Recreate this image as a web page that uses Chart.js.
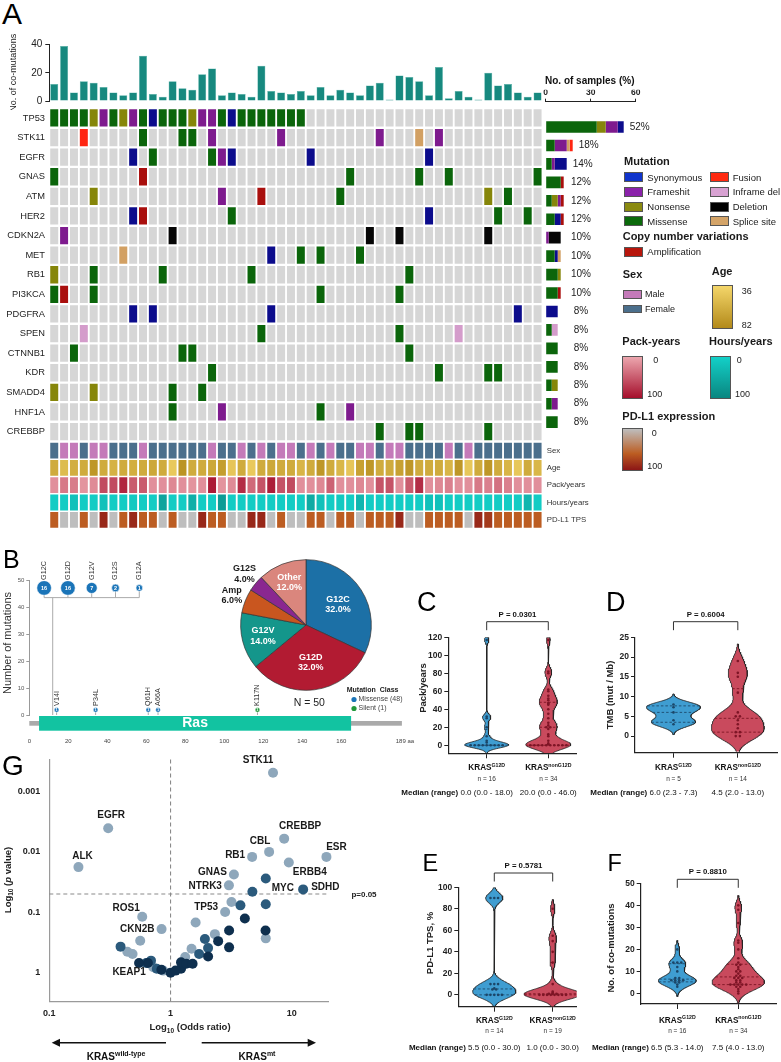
<!DOCTYPE html>
<html>
<head>
<meta charset="utf-8">
<title>KRAS co-mutation figure</title>
<script src="https://cdn.jsdelivr.net/npm/chart.js@4.4.1/dist/chart.umd.min.js"></script>
<style>
  html, body { margin: 0; padding: 0; background: #fff; }
  #page { position: relative; width: 781px; height: 1062px; overflow: hidden; background: #fff;
          font-family: "Liberation Sans", Arial, Helvetica, sans-serif; color: #1a1a1a; }
  #page canvas { position: absolute; }
  .txt { position: absolute; white-space: nowrap; line-height: 1; }
  .box { position: absolute; box-sizing: border-box; border: 1px solid #555; }
</style>
</head>
<body>
<div id="page"></div>
<script>
// ===== Panel A: co-mutation landscape =====
const sampleIds = Array.from({ length: 50 }, (_, i) => 'P' + (i + 1));
const coMutations = [12, 39, 6, 14, 13, 10, 6, 4, 6, 32, 5, 3, 14, 9, 8, 19, 23, 4, 6, 5,
                     3, 25, 7, 6, 5, 7, 4, 10, 4, 8, 6, 4, 11, 13, 1, 18, 17, 14, 4, 24,
                     2, 7, 3, 1, 20, 11, 12, 6, 3, 6];
const geneNames = ['TP53', 'STK11', 'EGFR', 'GNAS', 'ATM', 'HER2', 'CDKN2A', 'MET', 'RB1',
                   'PI3KCA', 'PDGFRA', 'SPEN', 'CTNNB1', 'KDR', 'SMADD4', 'HNF1A', 'CREBBP'];
// sample number + code: M missense, N nonsense, F frameshift, S synonymous,
// U fusion, I inframe del, D deletion, P splice site, A amplification
const geneHits = [
  '1M 2M 3M 4M 5N 6F 7M 8N 9F 10M 11S 12M 13M 14M 15N 16F 17F 18M 19S 20M 21M 22M 23M 24M 25M 26M',
  '4U 10M 14M 15M 17F 24F 34F 38P 40F',
  '9S 11M 17M 18F 19S 27S 39S',
  '1M 10A 31M 38M 41M 50M',
  '5N 18F 22A 30M 45N 47M',
  '9S 10A 19M 39S 46M 49M',
  '2F 13D 33D 36D 45D',
  '8P 23S 26M 28M 32M',
  '1N 5M 12M 21M 37M',
  '1M 2A 5M 28M 36M',
  '9S 11S 23S 48S',
  '4I 22M 36M 42I',
  '3M 14M 15M 37M',
  '17M 40M 45M 46M',
  '1N 5N 13M 16M',
  '13M 18F 28M 31F',
  '34M 37M 38M 45M'
];
const annotationNames = ['Sex', 'Age', 'Pack/years', 'Hours/years', 'PD-L1 TPS'];
const sex = 'FMMFMMFFFMFFFFFFMFFMFMFMMFMFMFFMMFMMFFFFMFMFFFFFFF'.split('');
const ages = [62, 52, 60, 62, 74, 62, 58, 62, 60, 62, 64, 62, 44, 76, 62, 62, 64, 70, 46, 62,
              44, 62, 64, 62, 62, 56, 62, 74, 62, 55, 46, 68, 74, 62, 62, 68, 74, 62, 62, 62,
              56, 74, 45, 62, 74, 62, 56, 45, 62, 55];
const packYears = [15, 30, 28, 12, 18, 60, 60, 85, 50, 50, 15, 15, 20, 15, 12, 15, 92, 12, 18, 80,
                   40, 55, 90, 55, 60, 15, 15, 20, 45, 15, 15, 20, 15, 55, 55, 15, 50, 80, 15, 20,
                   25, 15, 15, 30, 25, 35, 25, 15, 15, 15];
const hoursYears = [5, 5, 20, 5, 5, 20, 5, 5, 10, 5, 5, 60, 5, 5, 45, 5, 5, 70, 5, 5,
                    5, 5, 5, 5, 5, 5, 50, 20, 5, 10, 5, 35, 5, 5, 5, 5, 5, 5, 20, 20,
                    5, 5, 5, 5, 5, 5, 5, 5, 35, 5];
const pdl1 = [40, 0, 0, 40, 0, 85, 0, 40, 85, 40, 40, 0, 40, 0, 0, 85, 40, 40, 0, 0,
              85, 85, 0, 40, 0, 0, 40, 40, 0, 40, 40, 0, 40, 40, 40, 85, 0, 0, 40, 40,
              40, 40, 0, 85, 70, 40, 40, 40, 40, 40];
const stackCodes = ['M', 'N', 'F', 'S', 'I', 'D', 'P', 'U', 'A'];

// ===== Panel B: KRAS lollipop + pie =====
const g12Variants = ['G12C', 'G12D', 'G12V', 'G12S', 'G12A'];
const g12Counts = [16, 16, 7, 2, 1];
const otherVariants = ['V14I', 'P34L', 'Q61H', 'A66A', 'K117N'];
const otherPositions = [14, 34, 61, 66, 117];
const otherCounts = [1, 1, 1, 1, 1];
const otherClass = ['Missense', 'Missense', 'Missense', 'Missense', 'Silent'];
const classTotals = [['Missense', 48], ['Silent', 1]];
const rasDomain = [5, 165];
const proteinLength = 189;
const pieLabels = ['G12C', 'G12D', 'G12V', 'Amp', 'G12S', 'Other'];
const pieCounts = [16, 16, 7, 3, 2, 6];

// ===== Panels C-F: violins (values per patient) =====
const packG12D = [0, 0, 0, 0, 0, 0, 0, 0, 0, 3, 5, 10, 20, 30, 32, 117];
const packNonG12D = [0, 0, 0, 0, 0, 0, 0, 0, 0, 0, 1, 2, 5, 10, 12, 18, 20, 20, 22, 25, 30, 35,
                     40, 45, 46, 47, 50, 52, 55, 60, 62, 80, 82, 117];
const tmbG12D = [3, 4, 6, 7.3, 8];
const tmbNonG12D = [0, 0, 1, 1, 2, 3, 4, 5, 5, 6, 11, 15, 16, 19];
const tpsG12D = [0, 0, 0, 0, 0, 5, 5, 6, 10, 10, 10, 90, 90, 90];
const tpsNonG12D = [0, 0, 0, 0, 0, 0, 0, 0, 1, 1, 1, 2, 3, 10, 30, 40, 50, 55, 80];
const comutG12D = [3, 4, 5, 5, 6, 6, 6, 6, 7, 7, 10, 12, 14, 14, 14, 20];
const comutNonG12D = [0, 1, 2, 3, 3, 4, 4, 4, 4, 4, 5, 5, 6, 6, 7, 7, 7, 8, 8, 9, 10, 10, 11, 12,
                      13, 13, 14, 16, 20, 23, 24, 32, 38, 40];

// ===== Panel G: odds ratio vs p value =====
const gGenes = ['STK11', 'EGFR', 'ALK', 'CREBBP', 'CBL', 'RB1', 'ESR', 'ERBB4', 'GNAS', 'NTRK3', 'TP53',
                'ROS1', 'CKN2B', '', '', '', '', '', '', '', '', '', '', '',
                'MYC', '', 'SDHD', '', '', '', '', '', '', '', '',
                '', '', '', '', '', '', '', 'KEAP1', '', '', '', '', '', '', '', ''];
const oddsRatios = [7.0, 0.306, 0.174, 8.65, 6.5, 4.71, 19.3, 9.45, 3.33, 3.03, 2.82,
                    0.584, 0.843, 3.18, 1.61, 2.32, 0.562, 1.49, 1.32, 6.1, 0.44, 0.486, 0.72, 0.87,
                    6.1, 4.73, 12.4, 3.77, 6.1, 0.387, 1.92, 2.04, 1.72, 0.69, 0.63,
                    4.1, 3.04, 6.07, 2.47, 3.04, 2.04, 0.65, 0.55, 0.84, 1.0, 1.22, 1.22, 1.35, 1.52, 1.1, 0.77];
const pValues = [0.0005, 0.0041, 0.018, 0.0061, 0.0101, 0.0122, 0.0122, 0.0151, 0.0238, 0.036, 0.099,
                 0.119, 0.19, 0.068, 0.148, 0.23, 0.295, 0.40, 0.55, 0.27, 0.45, 0.49, 0.81, 0.92,
                 0.0277, 0.046, 0.042, 0.077, 0.074, 0.37, 0.277, 0.39, 0.49, 0.63, 0.69,
                 0.127, 0.2, 0.2, 0.30, 0.38, 0.54, 0.69, 0.69, 0.89, 1.0, 0.86, 0.67, 0.71, 0.71, 0.92, 0.86];
const gShade = [0, 0, 0, 0, 0, 0, 0, 0, 0, 0, 0, 0, 0, 0, 0, 0, 0, 0, 0, 0, 0, 0, 0, 0,
                1, 1, 1, 1, 1, 1, 1, 1, 1, 1, 1,
                2, 2, 2, 2, 2, 2, 2, 2, 2, 2, 2, 2, 2, 2, 2, 1];

// ===== Styles =====
const FONT = '"Liberation Sans", Arial, Helvetica, sans-serif';
Chart.defaults.font.family = FONT;
Chart.defaults.color = '#222';
const codeColor = { M: '#0b650b', N: '#86860a', F: '#7e1b8e', S: '#0c0c8c', U: '#ff2612',
                    I: '#d49ccb', D: '#060606', P: '#d2a063', A: '#a90f0d' };
const classColor = { Missense: '#1a74b8', Silent: '#22983a' };
const pieColors = ['#1c70a6', '#b21b32', '#14968b', '#c9561f', '#8a2790', '#da867d'];
const gShadeColors = ['#8ea7bb', '#2b5a7c', '#0e2f4e'];
const BLUE = { fill: '#3f9dd1', line: '#1d4a6c', dot: '#1b4668' };
const RED = { fill: '#c94a5d', line: '#7d1524', dot: '#7e1526' };

const f = (size, bold) => (bold ? 'bold ' : '') + size + 'px ' + FONT;
const base = () => ({ responsive: false, animation: false, devicePixelRatio: 1, events: [],
  plugins: { legend: { display: false }, tooltip: { enabled: false } } });
const page = document.getElementById('page');

function makeCanvas(left, top, w, h) {
  const c = document.createElement('canvas');
  c.width = w; c.height = h;
  c.style.left = left + 'px'; c.style.top = top + 'px';
  c.style.width = w + 'px'; c.style.height = h + 'px';
  page.appendChild(c);
  return c;
}
function hexToRgb(h) { const n = parseInt(h.slice(1), 16); return [n >> 16, (n >> 8) & 255, n & 255]; }
function ramp(stops, v) {
  let i = 0;
  while (i < stops.length - 2 && v > stops[i + 1][0]) i++;
  const [v0, c0] = stops[i], [v1, c1] = stops[i + 1];
  const t = Math.max(0, Math.min(1, (v - v0) / (v1 - v0)));
  const a = hexToRgb(c0), b = hexToRgb(c1);
  return 'rgb(' + a.map((x, k) => Math.round(x + (b[k] - x) * t)).join(',') + ')';
}
function drawText(ctx, s, x, y, font, color, align, baseline) {
  ctx.font = font; ctx.fillStyle = color || '#222';
  ctx.textAlign = align || 'left'; ctx.textBaseline = baseline || 'middle';
  ctx.fillText(s, x, y);
}
function richFont(p) { return (p.italic ? 'italic ' : '') + (p.bold ? 'bold ' : '') + p.size + 'px ' + FONT; }
function drawRich(ctx, parts, x, baseY, align, color) {
  ctx.save();
  ctx.fillStyle = color || '#111'; ctx.textAlign = 'left'; ctx.textBaseline = 'alphabetic';
  const widths = parts.map(p => { ctx.font = richFont(p); return ctx.measureText(p.t).width; });
  const total = widths.reduce((a, b) => a + b, 0);
  let cx = align === 'center' ? x - total / 2 : align === 'right' ? x - total : x;
  parts.forEach((p, i) => { ctx.font = richFont(p); ctx.fillText(p.t, cx, baseY + (p.dy || 0)); cx += widths[i]; });
  ctx.restore();
  return total;
}
function htmlText(str, x, cy, size, bold, align, color) {
  const d = document.createElement('div');
  d.className = 'txt';
  d.innerHTML = str;
  d.style.fontSize = size + 'px';
  d.style.fontWeight = bold ? 'bold' : 'normal';
  d.style.left = x + 'px';
  d.style.top = (cy - 0.49 * size) + 'px';
  if (align === 'center') d.style.transform = 'translateX(-50%)';
  if (align === 'right') d.style.transform = 'translateX(-100%)';
  if (color) d.style.color = color;
  page.appendChild(d);
}
function htmlBox(x, y, w, h, bg) {
  const d = document.createElement('div');
  d.className = 'box';
  Object.assign(d.style, { left: x + 'px', top: y + 'px', width: w + 'px', height: h + 'px', background: bg });
  page.appendChild(d);
}

// ---------- A: top bar chart of co-mutations ----------
new Chart(makeCanvas(0, 30, 548, 80), {
  type: 'bar',
  data: { labels: sampleIds, datasets: [{ data: coMutations, backgroundColor: '#17897f',
    borderColor: '#4fb0a6', borderWidth: 0.5, categoryPercentage: 1, barPercentage: 0.81 }] },
  options: { ...base(),
    layout: { padding: { left: 0, right: 5.5, top: 14.5, bottom: 5 } },
    scales: {
      x: { display: false },
      y: { min: 0, max: 40,
        afterFit: s => { s.width = 49.3; },
        afterBuildTicks: s => { s.ticks = [0, 20, 40].map(v => ({ value: v })); },
        ticks: { font: { size: 10 }, color: '#222', padding: 3 },
        grid: { drawOnChartArea: false, drawTicks: true, tickLength: 4, color: '#222' },
        border: { color: '#222', width: 1 },
        title: { display: true, text: 'No. of co-mutations', font: { size: 9 }, color: '#222', padding: { top: 8, bottom: 0 } } }
    } }
});

// ---------- A: oncoprint grid ----------
const GENE_ROW0 = 1.3, GENE_PITCH = 19.6, GENE_H = 17.3;
const ANN_ROW0 = 334.7, ANN_PITCH = 17.3, ANN_H = 15.8;
const hitMaps = geneHits.map(s => {
  const m = {};
  s.split(' ').forEach(t => { m[parseInt(t, 10)] = t.replace(/\d+/, ''); });
  return m;
});
const annColors = [
  sex.map(s => (s === 'M' ? '#c47ab9' : '#4b6f8c')),
  ages.map(v => ramp([[36, '#f4d66a'], [82, '#b38a1a']], v)),
  packYears.map(v => ramp([[0, '#eca6ae'], [100, '#a50f2c']], v)),
  hoursYears.map(v => ramp([[0, '#13d0c8'], [100, '#0a8680']], v)),
  pdl1.map(v => ramp([[0, '#bebebe'], [40, '#bc5d22'], [100, '#8c1616']], v))
];
const oncoDatasets = [];
geneNames.forEach((g, i) => {
  const top = GENE_ROW0 + GENE_PITCH * i;
  oncoDatasets.push({ data: sampleIds.map(() => [top, top + GENE_H]),
    backgroundColor: sampleIds.map((_, k) => (hitMaps[i][k + 1] ? codeColor[hitMaps[i][k + 1]] : '#d6d6d6')) });
});
annColors.forEach((cols, j) => {
  const top = ANN_ROW0 + ANN_PITCH * j;
  oncoDatasets.push({ data: sampleIds.map(() => [top, top + ANN_H]), backgroundColor: cols });
});
new Chart(makeCanvas(0, 105, 620, 430), {
  type: 'bar',
  data: { labels: sampleIds, datasets: oncoDatasets },
  options: { ...base(),
    datasets: { bar: { grouped: false, barPercentage: 0.81, categoryPercentage: 1, borderWidth: 0 } },
    layout: { padding: { left: 49.3, right: 77.5, top: 3, bottom: 5 } },
    scales: { x: { display: false }, y: { display: false, min: 0, max: 422, reverse: true } } },
  plugins: [{ id: 'rowLabels', afterDraw(chart) {
    const ctx = chart.ctx, y = chart.scales.y;
    geneNames.forEach((g, i) => drawText(ctx, g, 45, y.getPixelForValue(GENE_ROW0 + GENE_PITCH * i + GENE_H / 2),
      f(9.3), '#222', 'right'));
    annotationNames.forEach((a, j) => drawText(ctx, a, 546.7, y.getPixelForValue(ANN_ROW0 + ANN_PITCH * j + ANN_H / 2),
      f(7.8), '#333', 'left'));
  } }]
});

// ---------- A: alteration frequency bars ----------
const rowCenter = i => 108 + GENE_ROW0 + GENE_H / 2 + GENE_PITCH * i;
const sideDatasets = stackCodes.map(code => ({
  data: geneNames.map((g, i) => ({ x: Object.values(hitMaps[i]).filter(c => c === code).length * 100 / sampleIds.length,
                                    y: rowCenter(i) })),
  backgroundColor: codeColor[code], borderWidth: 0
}));
new Chart(makeCanvas(540, 70, 120, 380), {
  type: 'bar',
  data: { datasets: sideDatasets },
  options: { ...base(), indexAxis: 'y',
    datasets: { bar: { grouped: false, barPercentage: 0.63, categoryPercentage: 1 } },
    layout: { padding: { left: 5.7, right: 24.3, top: 19.7, bottom: 8 } },
    scales: {
      x: { type: 'linear', position: 'top', min: 0, max: 60, stacked: true,
        afterFit: s => { s.height = 12; },
        afterBuildTicks: s => { s.ticks = [0, 30, 60].map(v => ({ value: v })); },
        ticks: { font: { size: 8.5, weight: 'bold' }, color: '#222', padding: 1 },
        grid: { drawOnChartArea: false, drawTicks: true, tickLength: 3, color: '#222' },
        border: { color: '#222', width: 1 } },
      y: { type: 'linear', display: false, min: 101.7, max: 442, reverse: true, stacked: true,
        afterBuildTicks: s => { s.ticks = geneNames.map((g, i) => ({ value: rowCenter(i) })); } }
    } },
  plugins: [{ id: 'pctLabels', afterDraw(chart) {
    const ctx = chart.ctx, x = chart.scales.x, y = chart.scales.y;
    drawText(ctx, 'No. of samples (%)', 5, 11, f(10, true), '#111', 'left');
    geneNames.forEach((g, i) => {
      const pct = Object.keys(hitMaps[i]).length * 100 / sampleIds.length;
      const cx = Math.max(x.getPixelForValue(pct) + 16, 41);
      drawText(ctx, pct + '%', cx, y.getPixelForValue(rowCenter(i)), f(10), '#222', 'center');
    });
  } }]
});

// ---------- A: legend ----------
htmlText('Mutation', 624, 161, 11, true);
[['Synonymous', '#1034cc'], ['Frameshit', '#8a22aa'], ['Nonsense', '#8a8a10'], ['Missense', '#0b6a0b']]
  .forEach(([t, c], i) => { htmlBox(624, 172.3 + 14.7 * i, 18.7, 10, c); htmlText(t, 647.3, 177.3 + 14.7 * i, 9.5); });
[['Fusion', '#ff2a10'], ['Inframe del', '#d8a2d2'], ['Deletion', '#000'], ['Splice site', '#d4a468']]
  .forEach(([t, c], i) => { htmlBox(710, 172.3 + 14.7 * i, 18.7, 10, c); htmlText(t, 732.7, 177.3 + 14.7 * i, 9.5); });
htmlText('Copy number variations', 622.7, 236.7, 11, true);
htmlBox(624, 246.7, 18.7, 10, '#b8160c'); htmlText('Amplification', 647.3, 251.7, 9.5);
htmlText('Sex', 622.7, 274, 11, true);
htmlText('Age', 711.7, 271.7, 11, true);
htmlBox(622.7, 290, 19, 8.5, '#c47ab9'); htmlText('Male', 645, 294.3, 9);
htmlBox(622.7, 304.5, 19, 8.5, '#4b6f8c'); htmlText('Female', 645, 309, 9);
htmlBox(711.7, 285, 21, 44.3, 'linear-gradient(#f4d66a, #b38a1a)');
htmlText('36', 741.7, 291.7, 9); htmlText('82', 741.7, 325, 9);
htmlText('Pack-years', 622.3, 341.7, 11, true);
htmlText('Hours/years', 709, 341.7, 11, true);
htmlBox(622.3, 356, 21, 43, 'linear-gradient(#eca6ae, #a50f2c)');
htmlText('0', 653.3, 360, 9); htmlText('100', 647.3, 394, 9);
htmlBox(710, 356, 21, 43, 'linear-gradient(#13d0c8, #0a8680)');
htmlText('0', 736.7, 360, 9); htmlText('100', 735, 394, 9);
htmlText('PD-L1 expression', 622.3, 416, 11, true);
htmlBox(622.3, 428.3, 21, 42.7, 'linear-gradient(#bebebe, #bc5d22 60%, #8c1616)');
htmlText('0', 651.7, 433.3, 9); htmlText('100', 647.3, 466, 9);

// ---------- B: lollipop plot ----------
const g12Total = g12Counts.reduce((a, b) => a + b, 0);
const G12_START = 7.6, G12_STEP = 12.2;
const g12Head = g12Total + 5.3, g12Bar = g12Total + 1.7;
new Chart(makeCanvas(0, 545, 420, 210), {
  type: 'scatter',
  data: { datasets: [
    { data: g12Variants.map((v, i) => ({ x: G12_START + G12_STEP * i, y: g12Head })),
      pointRadius: c => 2 + 1.33 * Math.sqrt(g12Counts[c.dataIndex]),
      backgroundColor: classColor.Missense, borderColor: '#fff', borderWidth: 0.6 },
    { data: otherPositions.map((p, i) => ({ x: p, y: otherCounts[i] + 0.9 })),
      pointRadius: 2.4, backgroundColor: c => classColor[otherClass[c.dataIndex]], borderColor: '#fff', borderWidth: 0.5 }
  ] },
  options: { ...base(),
    layout: { padding: { left: 9.3, right: 22.1, top: 35.7, bottom: 5 } },
    scales: {
      x: { type: 'linear', min: 0, max: proteinLength,
        afterFit: s => { s.height = 35; },
        afterBuildTicks: s => { s.ticks = [0, 20, 40, 60, 80, 100, 120, 140, 160].map(v => ({ value: v })); },
        ticks: { font: { size: 6 }, color: '#444', padding: 23 },
        grid: { display: false, drawTicks: false }, border: { display: false } },
      y: { min: 0, max: 50,
        afterFit: s => { s.width = 20; },
        afterBuildTicks: s => { s.ticks = [0, 10, 20, 30, 40, 50].map(v => ({ value: v })); },
        ticks: { font: { size: 6 }, color: '#555', padding: 2 },
        grid: { drawOnChartArea: false, drawTicks: true, tickLength: 3, color: '#999' },
        border: { color: '#999', width: 1 } }
    } },
  plugins: [{ id: 'lollipop',
    beforeDatasetsDraw(chart) {
      const ctx = chart.ctx, x = chart.scales.x, y = chart.scales.y, y0 = y.getPixelForValue(0);
      ctx.save();
      ctx.fillStyle = '#aaaaaa';
      ctx.fillRect(x.getPixelForValue(0), y0 + 6, x.getPixelForValue(proteinLength) + 4 - x.getPixelForValue(0), 4.7);
      ctx.fillStyle = '#12c3a1';
      ctx.fillRect(x.getPixelForValue(rasDomain[0]), y0 + 1, x.getPixelForValue(rasDomain[1]) - x.getPixelForValue(rasDomain[0]), 14.7);
      drawText(ctx, 'Ras', (x.getPixelForValue(rasDomain[0]) + x.getPixelForValue(rasDomain[1])) / 2, y0 + 8.6, f(14, true), '#fff', 'center');
      ctx.strokeStyle = '#aaaaaa'; ctx.lineWidth = 1;
      ctx.beginPath();
      ctx.moveTo(x.getPixelForValue(12), y0); ctx.lineTo(x.getPixelForValue(12), y.getPixelForValue(g12Bar));
      ctx.moveTo(x.getPixelForValue(G12_START), y.getPixelForValue(g12Bar));
      ctx.lineTo(x.getPixelForValue(G12_START + G12_STEP * (g12Variants.length - 1)), y.getPixelForValue(g12Bar));
      g12Variants.forEach((v, i) => {
        const px = x.getPixelForValue(G12_START + G12_STEP * i);
        ctx.moveTo(px, y.getPixelForValue(g12Bar)); ctx.lineTo(px, y.getPixelForValue(g12Head));
      });
      otherPositions.forEach((p, i) => {
        ctx.moveTo(x.getPixelForValue(p), y0); ctx.lineTo(x.getPixelForValue(p), y.getPixelForValue(otherCounts[i] + 0.9));
      });
      ctx.stroke();
      ctx.restore();
    },
    afterDatasetsDraw(chart) {
      const ctx = chart.ctx, x = chart.scales.x, y = chart.scales.y;
      const rot = (s, px, py) => { ctx.save(); ctx.translate(px, py); ctx.rotate(-Math.PI / 2);
        drawText(ctx, s, 0, 0, f(7.2), '#333', 'left'); ctx.restore(); };
      g12Variants.forEach((v, i) => {
        const px = x.getPixelForValue(G12_START + G12_STEP * i), py = y.getPixelForValue(g12Head);
        rot(v, px, py - 8);
        drawText(ctx, String(g12Counts[i]), px, py + 0.3, f(5.5, true), '#fff', 'center');
      });
      otherVariants.forEach((v, i) => {
        const px = x.getPixelForValue(otherPositions[i]), py = y.getPixelForValue(otherCounts[i] + 0.9);
        rot(v, px, py - 4);
        drawText(ctx, String(otherCounts[i]), px, py + 0.2, f(4, true), '#fff', 'center');
      });
      drawText(ctx, proteinLength + ' aa', x.getPixelForValue(proteinLength) + 7, y.getPixelForValue(0) + 26, f(6), '#444', 'center');
      ctx.save(); ctx.translate(8.3, 98); ctx.rotate(-Math.PI / 2);
      drawText(ctx, 'Number of mutations', 0, 0, f(11), '#333', 'center'); ctx.restore();
      drawText(ctx, 'N = ' + pieCounts.reduce((a, b) => a + b, 0), 309.3, 157.7, f(10.5), '#222', 'center');
      drawText(ctx, 'Mutation  Class', 346.7, 145.5, f(7, true), '#222', 'left');
      classTotals.forEach(([t, n], k) => {
        ctx.fillStyle = classColor[t]; ctx.beginPath(); ctx.arc(354, 154.5 + 9 * k, 2.6, 0, Math.PI * 2); ctx.fill();
        drawText(ctx, t + ' (' + n + ')', 358.5, 154.5 + 9 * k, f(7), '#444', 'left');
      });
    } }]
});

// ---------- B: pie chart ----------
const pieLabelR = [0.58, 0.58, 0.68, 1.22, 1.22, 0.7];
new Chart(makeCanvas(196, 545, 220, 160), {
  type: 'pie',
  data: { labels: pieLabels, datasets: [{ data: pieCounts, backgroundColor: pieColors, borderColor: '#333', borderWidth: 0.7 }] },
  options: { ...base(), layout: { padding: { left: 44.3, right: 44.3, top: 14.3, bottom: 14.3 } } },
  plugins: [{ id: 'pieText', afterDatasetsDraw(chart) {
    const ctx = chart.ctx, arcs = chart.getDatasetMeta(0).data;
    const total = pieCounts.reduce((a, b) => a + b, 0);
    arcs.forEach((a, i) => {
      const mid = (a.startAngle + a.endAngle) / 2, r = a.outerRadius * pieLabelR[i];
      const px = a.x + Math.cos(mid) * r, py = a.y + Math.sin(mid) * r;
      const col = pieLabelR[i] > 1 ? '#1a1a1a' : '#fff';
      drawText(ctx, pieLabels[i], px, py - 5.3, f(9, true), col, 'center');
      drawText(ctx, (pieCounts[i] * 100 / total).toFixed(1) + '%', px, py + 5.3, f(9, true), col, 'center');
    });
  } }]
});

// ---------- C-F: violin panels ----------
function quantile(sorted, p) {
  const n = sorted.length, pos = (n + 1) * p - 1;
  if (pos <= 0) return sorted[0];
  if (pos >= n - 1) return sorted[n - 1];
  const lo = Math.floor(pos);
  return sorted[lo] + (pos - lo) * (sorted[lo + 1] - sorted[lo]);
}
function violinPanel(spec) {
  const [cl, ct, cw, ch] = spec.canvas;
  const [L, R, T, B] = spec.area;
  const YW = 30, XH = 6;
  const datasets = [];
  spec.groups.forEach((g, gi) => {
    const cx = gi + 1;
    const dens = y => g.values.reduce((s, v) => s + Math.exp(-0.5 * ((y - v) / g.bw) ** 2), 0);
    const lo = Math.min(...g.values) - 3.2 * g.bw, hi = Math.max(...g.values) + 3.2 * g.bw;
    const grid = [];
    for (let i = 0; i <= 300; i++) { const y = lo + (hi - lo) * i / 300; grid.push({ y, d: dens(y) }); }
    const dMax = Math.max(...grid.map(p => p.d));
    const inside = grid.map(p => p.d >= 0.012 * dMax);
    const first = inside.indexOf(true), last = inside.lastIndexOf(true);
    const pts = grid.slice(first, last + 1).filter(p => p.y >= spec.yMin + 0.2 && p.y <= spec.yMax);
    const k = g.half / dMax;
    const outline = pts.map(p => ({ x: cx - p.d * k, y: p.y }))
      .concat(pts.slice().reverse().map(p => ({ x: cx + p.d * k, y: p.y })));
    datasets.push({ data: outline, showLine: true, fill: 'shape', backgroundColor: g.color.fill,
      borderColor: '#222', borderWidth: 0.8, pointRadius: 0, tension: 0, order: 3 });
    const sorted = g.values.slice().sort((a, b) => a - b);
    [...new Set([0.25, 0.5, 0.75].map(p => quantile(sorted, p)))].forEach(q => {
      const w = dens(q) * k;
      datasets.push({ data: [{ x: cx - w, y: q }, { x: cx + w, y: q }], showLine: true, fill: false,
        borderColor: g.color.line, borderWidth: 0.9, borderDash: [2.5, 2], pointRadius: 0, order: 2 });
    });
    const seen = {};
    const counts = {};
    sorted.forEach(v => { counts[v] = (counts[v] || 0) + 1; });
    datasets.push({ data: sorted.map(v => { seen[v] = (seen[v] || 0) + 1;
        return { x: cx + (seen[v] - 1 - (counts[v] - 1) / 2) * 0.065, y: v }; }),
      pointRadius: 1.3, backgroundColor: g.color.dot, borderWidth: 0, order: 1 });
  });
  new Chart(makeCanvas(cl, ct, cw, ch), {
    type: 'scatter',
    data: { datasets },
    options: { ...base(),
      layout: { padding: { left: L - cl - YW, right: cl + cw - R, top: T - ct, bottom: ct + ch - B - XH } },
      scales: {
        x: { type: 'linear', min: spec.xMin, max: spec.xMax,
          afterFit: s => { s.height = XH; },
          afterBuildTicks: s => { s.ticks = [1, 2].map(v => ({ value: v })); },
          ticks: { display: false },
          grid: { drawOnChartArea: false, drawTicks: true, tickLength: 5, color: '#222' },
          border: { color: '#222', width: 1.2 } },
        y: { min: spec.yMin, max: spec.yMax,
          afterFit: s => { s.width = YW; },
          afterBuildTicks: s => { s.ticks = spec.yTicks.map(v => ({ value: v })); },
          ticks: { font: { size: 8.5, weight: 'bold' }, color: '#222', padding: 2 },
          grid: { drawOnChartArea: false, drawTicks: true, tickLength: 4, color: '#222' },
          border: { color: '#222', width: 1.2 } }
      } },
    plugins: [{ id: 'violinText', afterDraw(chart) {
      const ctx = chart.ctx, x = chart.scales.x;
      const px = [x.getPixelForValue(1), x.getPixelForValue(2)];
      ctx.save(); ctx.translate(spec.title[1] - cl, spec.title[2] - ct); ctx.rotate(-Math.PI / 2);
      drawText(ctx, spec.title[0], 0, 0, f(9.5, true), '#222', 'center'); ctx.restore();
      const by = spec.bracket - ct;
      ctx.save(); ctx.strokeStyle = '#333'; ctx.lineWidth = 1; ctx.beginPath();
      ctx.moveTo(px[0], by + 8.5); ctx.lineTo(px[0], by); ctx.lineTo(px[1], by); ctx.lineTo(px[1], by + 8.5);
      ctx.stroke(); ctx.restore();
      drawText(ctx, spec.p, (px[0] + px[1]) / 2, by - 7, f(7.8, true), '#111', 'center');
      const sups = ['G12D', 'nonG12D'];
      px.forEach((p, i) => {
        drawRich(ctx, [{ t: 'KRAS', size: 8.2, bold: true }, { t: sups[i], size: 5.2, bold: true, dy: -3.2 }],
          p, spec.rows[0] - ct + 3, 'center', '#111');
        drawText(ctx, spec.ns[i], p, spec.rows[1] - ct, f(6.5), '#333', 'center');
      });
      ctx.font = f(8);
      const w0 = ctx.measureText(spec.medians[0]).width;
      drawText(ctx, spec.medians[0], px[0], spec.rows[2] - ct, f(8), '#111', 'center');
      drawText(ctx, spec.medians[1], px[1], spec.rows[2] - ct, f(8), '#111', 'center');
      drawText(ctx, 'Median (range) ', px[0] - w0 / 2, spec.rows[2] - ct, f(8, true), '#111', 'right');
    } }]
  });
}

violinPanel({ canvas: [395, 585, 190, 215], area: [448.3, 576.7, 637.3, 753.3],
  yMin: -9, yMax: 120, yTicks: [0, 20, 40, 60, 80, 100, 120], xMin: 0.377, xMax: 2.461,
  title: ['Pack/years', 423, 688], bracket: 621.7, p: 'P = 0.0301', rows: [766.7, 779, 792.5],
  ns: ['n = 16', 'n = 34'], medians: ['0.0 (0.0 - 18.0)', '20.0 (0.0 - 46.0)'],
  groups: [{ values: packG12D, bw: 3.2, half: 0.357, color: BLUE }, { values: packNonG12D, bw: 5, half: 0.365, color: RED }] });
violinPanel({ canvas: [590, 585, 191, 215], area: [635, 780, 637.3, 752.7],
  yMin: -4.2, yMax: 25, yTicks: [0, 5, 10, 15, 20, 25], xMin: 0.402, xMax: 2.609,
  title: ['TMB (mut / Mb)', 610, 695], bracket: 621.7, p: 'P = 0.6004', rows: [766.7, 779, 792.5],
  ns: ['n = 5', 'n = 14'], medians: ['6.0 (2.3 - 7.3)', '4.5 (2.0 - 13.0)'],
  groups: [{ values: tmbG12D, bw: 1.0, half: 0.42, color: BLUE }, { values: tmbNonG12D, bw: 1.9, half: 0.41, color: RED }] });
violinPanel({ canvas: [395, 845, 190, 217], area: [458.3, 576.7, 887.3, 1006.7],
  yMin: -11, yMax: 100, yTicks: [0, 20, 40, 60, 80, 100], xMin: 0.384, xMax: 2.411,
  title: ['PD-L1 TPS, %', 430, 943], bracket: 873, p: 'P = 0.5781', rows: [1020, 1031, 1047.5],
  ns: ['n = 14', 'n = 19'], medians: ['5.5 (0.0 - 30.0)', '1.0 (0.0 - 30.0)'],
  groups: [{ values: tpsG12D, bw: 4.5, half: 0.37, color: BLUE }, { values: tpsNonG12D, bw: 4.5, half: 0.49, color: RED }] });
violinPanel({ canvas: [590, 845, 191, 217], area: [640.7, 776.7, 883.3, 1004],
  yMin: -4.8, yMax: 50, yTicks: [0, 10, 20, 30, 40, 50], xMin: 0.4, xMax: 2.63,
  title: ['No. of co-mutations', 611.7, 948], bracket: 879.3, p: 'P = 0.8810', rows: [1019.5, 1031, 1048],
  ns: ['n = 16', 'n = 34'], medians: ['6.5 (5.3 - 14.0)', '7.5 (4.0 - 13.0)'],
  groups: [{ values: comutG12D, bw: 2.0, half: 0.31, color: BLUE }, { values: comutNonG12D, bw: 2.3, half: 0.43, color: RED }] });

// ---------- G: volcano-style scatter ----------
const gLabelStyle = { STK11: [-15, -13, 'center'], EGFR: [3, -13, 'center'], ALK: [4, -11, 'center'],
  CREBBP: [16, -12, 'center'], CBL: [-9, -11, 'center'], RB1: [-7, -2, 'right'], ESR: [10, -10, 'center'],
  ERBB4: [21, 10, 'center'], GNAS: [-7, -2, 'right'], NTRK3: [-7, 1, 'right'], MYC: [17, 10, 'center'],
  SDHD: [8, -2, 'left'], TP53: [-7, -5, 'right'], ROS1: [-16, -9, 'center'], CKN2B: [-7, 0, 'right'],
  KEAP1: [-10, 9, 'center'] };
new Chart(makeCanvas(0, 745, 400, 317), {
  type: 'scatter',
  data: { datasets: [0, 1, 2].map(sh => ({
    data: oddsRatios.map((o, i) => ({ x: o, y: pValues[i], s: gShade[i] })).filter(p => p.s === sh),
    pointRadius: 5, backgroundColor: gShadeColors[sh], borderWidth: 0, order: 3 - sh, clip: false })) },
  options: { ...base(),
    layout: { padding: { left: 0, right: 71.7, top: 12.5, bottom: 30.3 } },
    scales: {
      x: { type: 'logarithmic', min: 0.1, max: 20,
        afterFit: s => { s.height = 30; },
        afterBuildTicks: s => { s.ticks = [0.1, 1, 10].map(v => ({ value: v })); },
        ticks: { font: { size: 9, weight: 'bold' }, color: '#222', padding: 6, callback: v => String(v) },
        grid: { display: false, drawTicks: false }, border: { color: '#9a9a9a', width: 1.2 } },
      y: { type: 'logarithmic', min: 0.0003, max: 3, reverse: true,
        afterFit: s => { s.width = 49.3; },
        afterBuildTicks: s => { s.ticks = [0.001, 0.01, 0.1, 1].map(v => ({ value: v })); },
        ticks: { font: { size: 9, weight: 'bold' }, color: '#222', padding: 9, callback: v => String(v) },
        grid: { display: false, drawTicks: false }, border: { color: '#9a9a9a', width: 1.2 } }
    } },
  plugins: [{ id: 'volcano',
    beforeDatasetsDraw(chart) {
      const ctx = chart.ctx, a = chart.chartArea, x = chart.scales.x, y = chart.scales.y;
      ctx.save(); ctx.strokeStyle = '#8a8a8a'; ctx.lineWidth = 1.1; ctx.setLineDash([4, 3]);
      ctx.beginPath();
      ctx.moveTo(x.getPixelForValue(1), a.top); ctx.lineTo(x.getPixelForValue(1), a.bottom);
      ctx.moveTo(a.left, y.getPixelForValue(0.05)); ctx.lineTo(a.right, y.getPixelForValue(0.05));
      ctx.stroke(); ctx.restore();
    },
    afterDatasetsDraw(chart) {
      const ctx = chart.ctx, x = chart.scales.x, y = chart.scales.y;
      gGenes.forEach((g, i) => {
        if (!g) return;
        const [dx, dy, al] = gLabelStyle[g];
        drawText(ctx, g, x.getPixelForValue(oddsRatios[i]) + dx, y.getPixelForValue(pValues[i]) + dy, f(10, true), '#1a1a1a', al);
      });
      drawText(ctx, 'p=0.05', 364, y.getPixelForValue(0.05) + 1, f(8, true), '#222', 'center');
      drawRich(ctx, [{ t: 'Log', size: 9.5, bold: true }, { t: '10', size: 6.5, bold: true, dy: 2.5 },
        { t: ' (Odds ratio)', size: 9.5, bold: true }], 190, 285, 'center', '#222');
      ctx.save(); ctx.translate(10.5, 135); ctx.rotate(-Math.PI / 2);
      drawRich(ctx, [{ t: 'Log', size: 9.5, bold: true }, { t: '10', size: 6.5, bold: true, dy: 2.5 },
        { t: ' (', size: 9.5, bold: true }, { t: 'p', size: 9.5, bold: true, italic: true },
        { t: ' value)', size: 9.5, bold: true }], 0, 0, 'center', '#222');
      ctx.restore();
      ctx.save(); ctx.strokeStyle = '#111'; ctx.fillStyle = '#111'; ctx.lineWidth = 1.4;
      const ay = 297.7;
      ctx.beginPath(); ctx.moveTo(166, ay); ctx.lineTo(58, ay); ctx.moveTo(201.7, ay); ctx.lineTo(309, ay); ctx.stroke();
      ctx.beginPath(); ctx.moveTo(51.7, ay); ctx.lineTo(60, ay - 4); ctx.lineTo(60, ay + 4); ctx.closePath(); ctx.fill();
      ctx.beginPath(); ctx.moveTo(316, ay); ctx.lineTo(307.7, ay - 4); ctx.lineTo(307.7, ay + 4); ctx.closePath(); ctx.fill();
      ctx.restore();
      drawRich(ctx, [{ t: 'KRAS', size: 10, bold: true }, { t: 'wild-type', size: 7, bold: true, dy: -4 }], 116, 314.5, 'center', '#111');
      drawRich(ctx, [{ t: 'KRAS', size: 10, bold: true }, { t: 'mt', size: 7, bold: true, dy: -4 }], 257, 314.5, 'center', '#111');
    } }]
});

// ---------- panel letters ----------
[['A', 2, 13.7, 30], ['B', 3, 559.7, 25], ['C', 417, 602.7, 27], ['D', 606, 602.7, 27],
 ['E', 422.5, 863.4, 23.5], ['F', 607.5, 863.4, 23.5], ['G', 2, 766, 28]]
  .forEach(([t, x, y, s]) => htmlText(t, x, y, s, false, 'left', '#000'));
</script>
</body>
</html>
